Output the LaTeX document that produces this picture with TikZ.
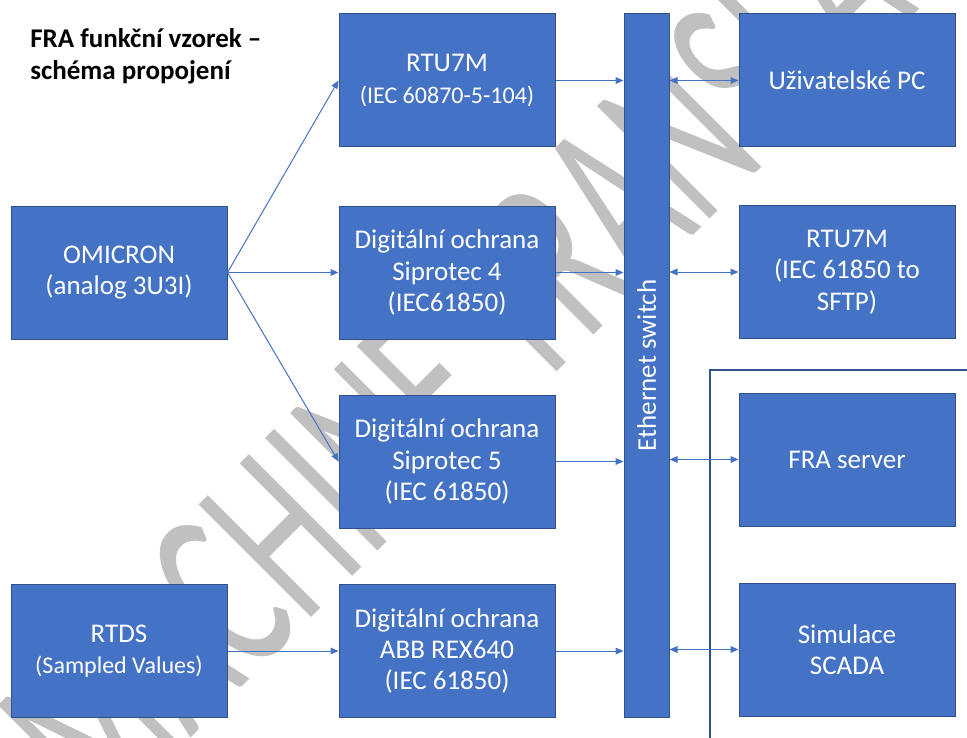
\documentclass[tikz,border=0pt]{standalone}
\usepackage{fontspec}
\setmainfont{Carlito}
\usetikzlibrary{arrows.meta}
\definecolor{boxblue}{RGB}{68,114,196}
\definecolor{boxedge}{RGB}{47,82,143}
\definecolor{wmgray}{RGB}{192,192,192}
\newcommand{\bigfnt}{\fontsize{20.25}{23.5}\selectfont}
\newcommand{\smallfnt}{\fontsize{18}{21}\selectfont}
\begin{document}
\begin{tikzpicture}[x=0.75pt,y=-0.75pt,
  devbox/.style={draw=boxedge, line width=0.75pt, fill=boxblue, text=white,
    minimum width=162pt, minimum height=99.75pt, inner sep=0pt, align=center, font=\bigfnt},
  swbar/.style={draw=boxedge, line width=0.75pt, fill=boxblue,
    minimum width=33.75pt, minimum height=527.25pt, inner sep=0pt},
  conn/.style={draw=boxblue, line width=0.75pt, -{Triangle[length=6pt,width=5pt]}},
  dconn/.style={draw=boxblue, line width=0.75pt, {Triangle[length=6pt,width=5pt]}-{Triangle[length=6pt,width=5pt]}},
  titletext/.style={anchor=base west, inner sep=0pt, font=\bigfnt\bfseries, text=black},
  wmark/.style={text=wmgray, inner sep=0pt, font=\fontsize{186}{186}\selectfont},
  frame/.style={draw=boxedge, line width=1.1pt}
]
\useasboundingbox (0,0) rectangle (967,738);
\clip (0,0) rectangle (967,738);
\fill[white] (0,0) rectangle (967,738);

% watermark
\node[wmark, rotate=45, anchor=base west] (wm) at (102,827) {\scalebox{0.59}[1]{MACHINE TRANSLATION}};

% title
\node[titletext] (t1) at (30,48) {FRA funkční vzorek –};
\node[titletext] (t2) at (30,80) {schéma propojení};

% frame
\draw[frame] (710,370) rectangle (1000,780);

% boxes
\node[devbox] (rtu1) at (447,80.5) {RTU7M\\{\smallfnt (IEC 60870-5-104)}};
\node[devbox] (pc) at (847,80.5) {Uživatelské PC};
\node[devbox] (omicron) at (119,272.5) {OMICRON\\(analog 3U3I)};
\node[devbox] (sip4) at (447,272.5) {Digitální ochrana\\Siprotec 4\\(IEC61850)};
\node[devbox] (rtu2) at (847,272) {RTU7M\\(IEC 61850 to\\SFTP)};
\node[devbox] (sip5) at (447,461.5) {Digitální ochrana\\Siprotec 5\\(IEC 61850)};
\node[devbox] (fra) at (847,459.5) {FRA server};
\node[devbox] (rtds) at (119,651) {RTDS\\{\smallfnt (Sampled Values)}};
\node[devbox] (abb) at (447,651) {Digitální ochrana\\ABB REX640\\(IEC 61850)};
\node[devbox] (scada) at (847,649.5) {Simulace\\SCADA};

\node[swbar] (sw) at (646.5,365.5) {};
\node[rotate=90, text=white, font=\bigfnt, inner sep=0pt] (swlabel) at (sw.center) {Ethernet switch};

% connectors
\draw[conn] (omicron.east) -- (rtu1.west);
\draw[conn] (omicron.east) -- (sip4.west);
\draw[conn] (omicron.east) -- (sip5.west);
\draw[conn] (rtds.east) -- (abb.west);

\draw[conn] (rtu1.east) -- (rtu1.east -| sw.west);
\draw[conn] (sip4.east) -- (sip4.east -| sw.west);
\draw[conn] (sip5.east) -- (sip5.east -| sw.west);
\draw[conn] (abb.east) -- (abb.east -| sw.west);

\draw[dconn] (pc.west -| sw.east) -- (pc.west);
\draw[dconn] (rtu2.west -| sw.east) -- (rtu2.west);
\draw[dconn] (fra.west -| sw.east) -- (fra.west);
\draw[dconn] (scada.west -| sw.east) -- (scada.west);
\end{tikzpicture}
\end{document}
